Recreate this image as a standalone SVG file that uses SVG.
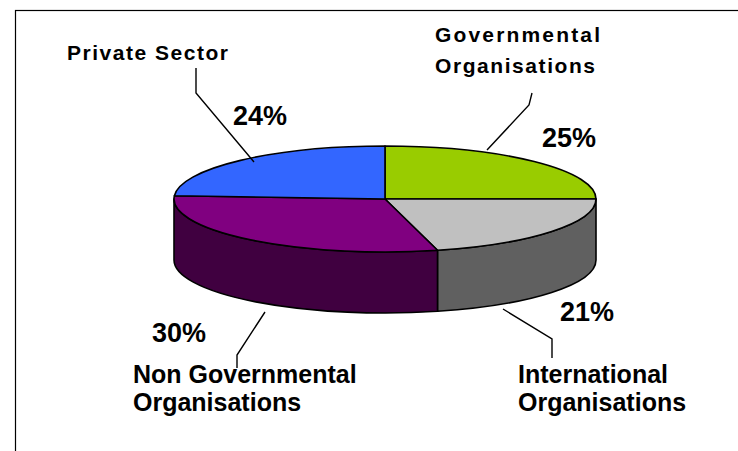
<svg xmlns="http://www.w3.org/2000/svg" width="738" height="451" viewBox="0 0 738 451">
<style>
.edge{stroke:#000;stroke-width:1.6;stroke-linejoin:round}
.lead{stroke:#000;stroke-width:1.4;fill:none}
.lbl{font-family:"Liberation Sans",Arial,sans-serif;font-weight:bold;fill:#000}
.sm{font-size:21px}
.lg{font-size:25px}
.pct{font-size:27px}
</style>
<rect x="15.5" y="10.5" width="900" height="600" fill="#fff" stroke="#000" stroke-width="1.2"/>
<g id="pie">
  <g id="side-international">
    <path class="edge" fill="#606060" d="M596 199 A211 53 0 0 1 437.5 250.3 L437.5 311.3 A211 53 0 0 0 596 260 Z"/>
  </g>
  <g id="side-ngo">
    <path class="edge" fill="#400040" d="M437.5 250.3 A211 53 0 0 1 174 199 L174 260 A211 53 0 0 0 437.5 311.3 Z"/>
  </g>
  <g id="slice-governmental">
    <path class="edge" fill="#99CC00" d="M385 199 L385 146 A211 53 0 0 1 596 199 Z"/>
  </g>
  <g id="slice-international">
    <path class="edge" fill="#C0C0C0" d="M385 199 L596 199 A211 53 0 0 1 437.5 250.3 Z"/>
  </g>
  <g id="slice-ngo">
    <path class="edge" fill="#800080" d="M385 199 L437.5 250.3 A211 53 0 0 1 174.4 195.7 Z"/>
  </g>
  <g id="slice-private">
    <path class="edge" fill="#3366FF" d="M385 199 L174.4 195.7 A211 53 0 0 1 385 146 Z"/>
  </g>
</g>
<g id="connectors">
  <polyline class="lead" points="196,68 196,93 254,162"/>
  <polyline class="lead" points="532,93 529,105 487,150"/>
  <polyline class="lead" points="265,312 237,355 237,368"/>
  <polyline class="lead" points="503,309 552,339 552,358"/>
</g>
<g id="label-private">
  <text class="lbl sm" x="67" y="60" textLength="161" lengthAdjust="spacing">Private Sector</text>
  <text class="lbl pct" x="233" y="125">24%</text>
</g>
<g id="label-governmental">
  <text class="lbl sm" x="435" y="41.5" textLength="165" lengthAdjust="spacing">Governmental</text>
  <text class="lbl sm" x="435" y="73" textLength="160" lengthAdjust="spacing">Organisations</text>
  <text class="lbl pct" x="542" y="147">25%</text>
</g>
<g id="label-ngo">
  <text class="lbl pct" x="152" y="342">30%</text>
  <text class="lbl lg" x="133" y="383">Non Governmental</text>
  <text class="lbl lg" x="133" y="411">Organisations</text>
</g>
<g id="label-international">
  <text class="lbl pct" x="560" y="321">21%</text>
  <text class="lbl lg" x="518" y="383">International</text>
  <text class="lbl lg" x="518" y="411">Organisations</text>
</g>
</svg>
